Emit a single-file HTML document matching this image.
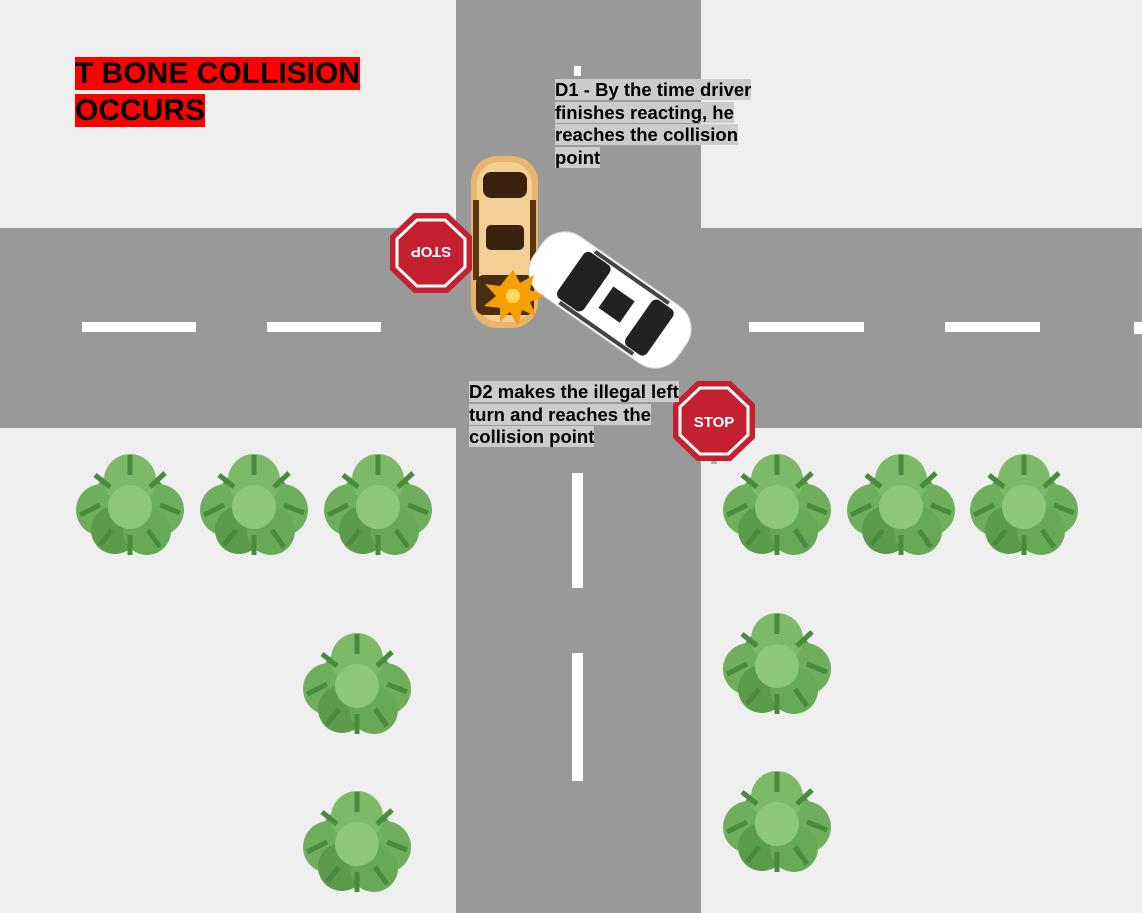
<!DOCTYPE html>
<html><head><meta charset="utf-8"><style>
body{margin:0;width:1142px;height:913px;overflow:hidden;background:#efefef;font-family:"Liberation Sans",Arial,sans-serif}
.t{position:absolute;font-weight:bold;color:#000}
.t span{background:#ccc}
</style></head><body>
<svg width="1142" height="913" style="position:absolute;left:0;top:0">
<defs>
<g id="bush">
 <circle cx="0" cy="0" r="38" fill="#5f9e4f"/>
 <circle cx="-28" cy="5" r="26" fill="#6fae5c"/>
 <circle cx="28" cy="5" r="26" fill="#6fae5c"/>
 <circle cx="0" cy="-25" r="26" fill="#7cba68"/>
 <circle cx="-15" cy="25" r="24" fill="#5c9a4c"/>
 <circle cx="17" cy="26" r="24" fill="#68a957"/>
 <circle cx="0" cy="2" r="22" fill="#8cc878"/>
 <path d="M-50 10 L-30 0 M50 8 L30 0 M0 -50 L0 -30 M-35 -30 L-20 -18 M35 -32 L20 -18 M-30 40 L-18 25 M30 42 L18 25 M0 50 L0 30" stroke="#4a8a3c" stroke-width="5"/>
</g>
<g id="stop">
 <polygon points="-17,-40 17,-40 41,-17 41,17 17,40 -17,40 -41,17 -41,-17" fill="#c42030"/>
 <polygon points="-14,-33 14,-33 34,-14 34,14 14,33 -14,33 -34,14 -34,-14" fill="none" stroke="#fff" stroke-width="3"/>
</g>
</defs>
<rect x="456" y="0" width="245" height="913" fill="#999"/>
<rect x="0" y="228" width="1142" height="200" fill="#999"/>
<g fill="#fff">
<rect x="82" y="322" width="114" height="10"/><rect x="267" y="322" width="114" height="10"/>
<rect x="749" y="322" width="115" height="10"/><rect x="945" y="322" width="95" height="10"/><rect x="1134" y="322" width="8" height="12"/>
<rect x="572" y="473" width="11" height="115"/><rect x="572" y="653" width="11" height="128"/>
<rect x="574" y="66" width="7" height="10"/>
</g>
<use href="#bush" x="130" y="505"/><use href="#bush" x="254" y="505"/><use href="#bush" x="378" y="505"/>
<use href="#bush" x="777" y="505"/><use href="#bush" x="901" y="505"/><use href="#bush" x="1024" y="505"/>
<use href="#bush" x="357" y="684"/><use href="#bush" x="777" y="664"/>
<use href="#bush" x="357" y="842"/><use href="#bush" x="777" y="822"/>
<g>
<rect x="471" y="156" width="67" height="172" rx="26" fill="#e9b56a"/>
<rect x="477" y="162" width="55" height="160" rx="22" fill="#f2cf95"/>
<rect x="483" y="172" width="44" height="26" rx="8" fill="#3a220e"/>
<rect x="486" y="225" width="38" height="25" rx="5" fill="#3a220e"/>
<rect x="473" y="200" width="6" height="80" fill="#5a3512"/><rect x="530" y="200" width="6" height="80" fill="#5a3512"/>
<rect x="476" y="275" width="58" height="40" rx="8" fill="#4a2c10"/>
</g>
<g transform="translate(610,300) rotate(-55)">
<rect x="-35" y="-88" width="70" height="176" rx="28" fill="#fff" stroke="#ccc"/>
<rect x="-28" y="-48" width="56" height="32" rx="6" fill="#222"/>
<rect x="-28" y="35" width="56" height="26" rx="6" fill="#222"/>
<rect x="-13" y="-5" width="26" height="26" fill="#222"/>
<rect x="-33" y="-40" width="4" height="90" fill="#444"/><rect x="29" y="-40" width="4" height="90" fill="#444"/>
</g>
<polygon points="513,270 520,283 534,275 530,290 545,296 530,302 536,316 522,310 518,326 510,312 500,322 500,308 484,306 496,296 485,284 500,286" fill="#f6a000"/>
<circle cx="513" cy="296" r="7" fill="#ffd860"/>
<use href="#stop" x="431" y="253"/>
<text x="431" y="259" font-size="15" font-weight="bold" fill="#fff" text-anchor="middle" transform="rotate(180 431 253)" font-family="Liberation Sans">STOP</text>
<rect x="711" y="450" width="6" height="14" fill="#aaa"/>
<use href="#stop" x="714" y="421"/>
<text x="714" y="427" font-size="15" font-weight="bold" fill="#fff" text-anchor="middle" font-family="Liberation Sans">STOP</text>
</svg>
<div class="t" style="left:75px;top:55px;font-size:30px;line-height:37px"><span style="background:#f00">T BONE COLLISION</span><br><span style="background:#f00">OCCURS</span></div>
<div class="t" style="left:555px;top:79px;font-size:18.5px;line-height:22.5px"><span>D1 - By the time driver</span><br><span>finishes reacting, he</span><br><span>reaches the collision</span><br><span>point</span></div>
<div class="t" style="left:469px;top:381px;font-size:18.5px;line-height:22.5px"><span>D2 makes the illegal left</span><br><span>turn and reaches the</span><br><span>collision point</span></div>
</body></html>
